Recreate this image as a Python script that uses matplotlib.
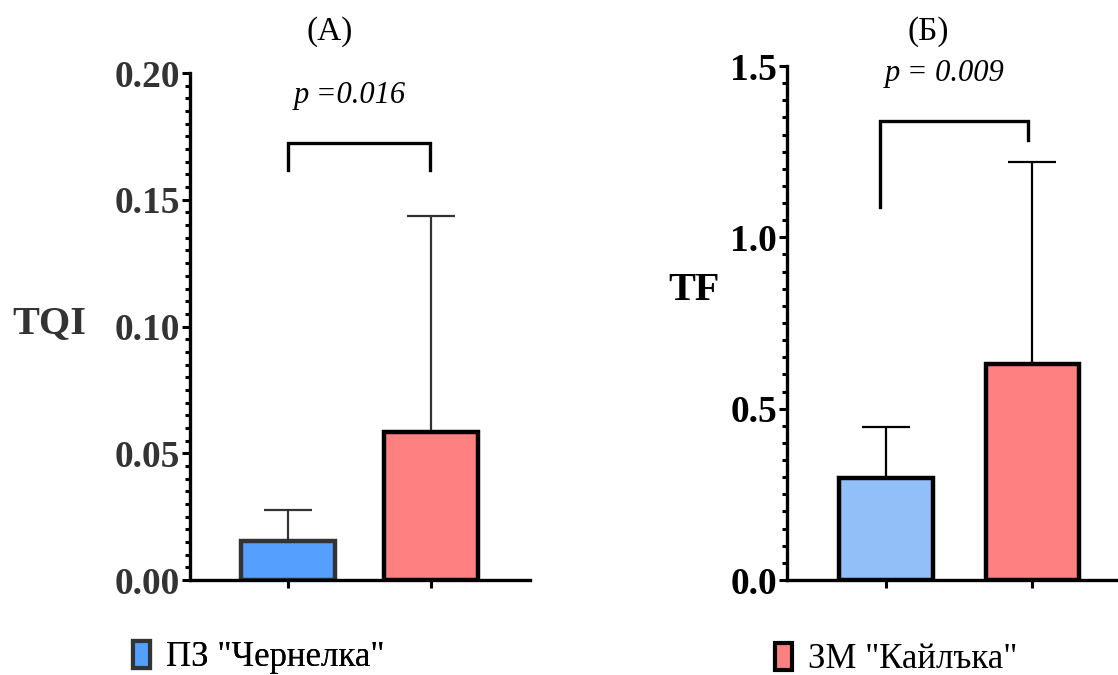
import matplotlib
matplotlib.use('Agg')
import matplotlib.pyplot as plt
from matplotlib.patches import Patch
from matplotlib.ticker import MultipleLocator

plt.rcParams['font.family'] = ['Liberation Serif', 'DejaVu Serif']

groups = ['ПЗ "Чернелка"', 'ЗМ "Кайлъка"']

# panel A - TQI
tqi_mean = [0.0154, 0.0584]
tqi_err = [0.0122, 0.0852]
tqi_bracket = [0.1617, 0.1724, 0.1617]
tqi_p = 'p =0.016'

# panel B - TF
tf_mean = [0.298, 0.630]
tf_err = [0.148, 0.590]
tf_bracket = [1.088, 1.340, 1.284]
tf_p = 'p = 0.009'

fig = plt.figure(figsize=(11.18, 6.75), dpi=100)
axA = fig.add_axes([0.1699, 0.1407, 0.3041, 0.7511])
axB = fig.add_axes([0.7039, 0.1407, 0.2961, 0.7615])


def draw(ax, means, errs, colors, edges, width, xlim, ylim, major, minor,
         fmt, ylabel, ptext, ptx, pty, bracket, bx, txtcol, ylab_xy):
    x = [0, 1]
    ax.errorbar(x, means, yerr=[[0, 0], errs], fmt='none', ecolor=txtcol,
                elinewidth=1.6, capsize=17.3, capthick=1.6, zorder=1)
    ax.bar(x, means, width=width, color=colors, edgecolor=edges,
           linewidth=3.2, zorder=2)
    ax.plot([bx[0], bx[0], bx[1], bx[1]],
            [bracket[0], bracket[1], bracket[1], bracket[2]],
            color='black', lw=2.4, solid_joinstyle='miter', clip_on=False)
    ax.text(ptx, pty, ptext, style='italic', fontsize=22, ha='center',
            va='center', color='black')
    ax.set_xlim(*xlim)
    ax.set_ylim(*ylim)
    ax.set_xticks(x)
    ax.set_xticklabels([])
    ax.yaxis.set_major_locator(MultipleLocator(major))
    ax.yaxis.set_minor_locator(MultipleLocator(minor))
    ax.set_yticklabels([fmt % v for v in ax.get_yticks()])
    for lab in ax.get_yticklabels():
        lab.set_fontweight('bold')
        lab.set_fontsize(27)
        lab.set_color(txtcol)
    ax.tick_params(axis='y', which='major', length=6, width=2.2, pad=1)
    ax.tick_params(axis='y', which='minor', length=3.5, width=2.2)
    ax.tick_params(axis='x', length=6, width=2.2)
    for s in ['top', 'right']:
        ax.spines[s].set_visible(False)
    for s in ['left', 'bottom']:
        ax.spines[s].set_linewidth(2.4)
        ax.spines[s].set_color('black')
    ax.set_ylabel(ylabel, fontsize=29, fontweight='bold', rotation=0,
                  color=txtcol, va='center', ha='center')
    ax.yaxis.set_label_coords(*ylab_xy)


draw(axA, tqi_mean, tqi_err, ['#55A0FF', '#FF8080'], ['#333333', 'black'],
     0.655, (-0.683, 1.686), (0, 0.2), 0.05, 0.005, '%.2f', 'TQI',
     tqi_p, 0.43, 0.191, tqi_bracket, [0.0, 0.99], '#333333', (-0.415, 0.505))
draw(axB, tf_mean, tf_err, ['#92BFF8', '#FF8080'], ['black', 'black'],
     0.64, (-0.676, 1.584), (0, 1.5), 0.5, 0.05, '%.1f', 'TF',
     tf_p, 0.40, 1.479, tf_bracket, [-0.04, 0.97], 'black', (-0.28, 0.564))

fig.text(330 / 1118, 1 - 32 / 675, '(A)', fontsize=24, ha='center', va='center')
fig.text(928 / 1118, 1 - 32 / 675, '(Б)', fontsize=24, ha='center', va='center')

legA = fig.legend(handles=[Patch(facecolor='#55A0FF', edgecolor='#333333', lw=3)],
                  labels=[groups[0]], loc='center left',
                  bbox_to_anchor=(0.091, 0.026), frameon=False, fontsize=25,
                  handlelength=0.5, handleheight=0.85, handletextpad=0.45)
fig.add_artist(legA)
fig.legend(handles=[Patch(facecolor='#FF8080', edgecolor='black', lw=3)],
           labels=[groups[1]], loc='center left',
           bbox_to_anchor=(0.665, 0.023), frameon=False, fontsize=25,
           handlelength=0.5, handleheight=0.85, handletextpad=0.45)

fig.savefig('out.png', dpi=100)
